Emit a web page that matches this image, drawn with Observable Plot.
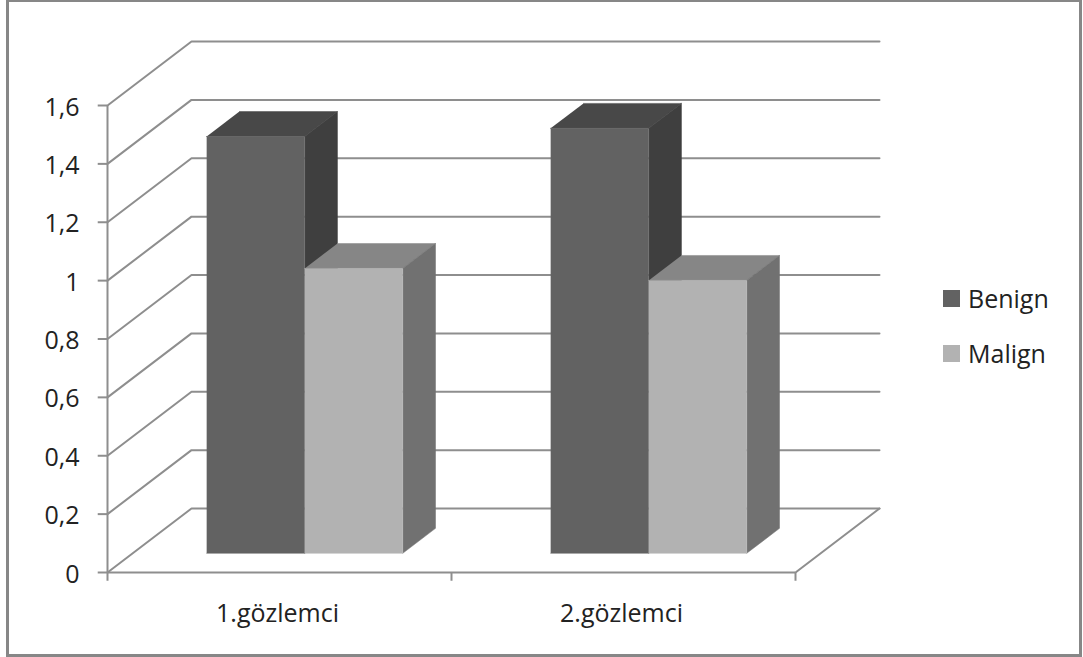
<!DOCTYPE html>
<html><head><meta charset="utf-8">
<script src="https://cdn.jsdelivr.net/npm/d3@7"></script>
<script src="https://cdn.jsdelivr.net/npm/@observablehq/plot@0.6"></script>
<style>
html,body{margin:0;padding:0;background:#fff}
#wrap{position:relative;width:1083px;height:657px;overflow:hidden}
#wrap svg{position:absolute;left:0;top:0}
#border{position:absolute;left:6px;top:-1px;width:1070px;height:652px;border:3px solid #878787}
.lg{position:absolute;left:943px;font:25px "Open Sans",sans-serif;color:#222;line-height:17px;white-space:nowrap}
.lg i{display:inline-block;width:17px;height:17px;margin-right:8px;vertical-align:top}
</style></head><body>
<div id="wrap"><div id="border"></div></div>
<script>
const categories = ["1.gözlemci", "2.gözlemci"];
const seriesNames = ["Benign", "Malign"];
const benign = [1.428, 1.456];
const malign = [0.976, 0.935];
const yTicks = [0, 0.2, 0.4, 0.6, 0.8, 1, 1.2, 1.4, 1.6];
const palette = {
  Benign: {front: "#626262", top: "#484848", side: "#3f3f3f"},
  Malign: {front: "#b2b2b2", top: "#868686", side: "#717171"}
};
// oblique projection of the depth axis, in data units
const depthX = 84 / 344, depthY = 64 / 292;
const barStart = 0.215, barWidth = 0.285, zFront = 0.3, zBack = 0.69;
const P = (x, z, v) => ({x: x + z * depthX, y: v + z * depthY});
const grid = "#8e8e8e";

const boxes = [];
seriesNames.forEach((name, s) => {
  const vals = s === 0 ? benign : malign;
  categories.forEach((c, i) => {
    const x0 = i + barStart + s * barWidth, x1 = x0 + barWidth, v = vals[i], col = palette[name];
    boxes.push(Plot.line([P(x0,zFront,v),P(x1,zFront,v),P(x1,zBack,v),P(x0,zBack,v)], {x:"x",y:"y",fill:col.top,stroke:col.top,strokeWidth:0.5}));
    boxes.push(Plot.line([P(x1,zFront,0),P(x1,zBack,0),P(x1,zBack,v),P(x1,zFront,v)], {x:"x",y:"y",fill:col.side,stroke:col.side,strokeWidth:0.5}));
    boxes.push(Plot.line([P(x0,zFront,0),P(x1,zFront,0),P(x1,zFront,v),P(x0,zFront,v)], {x:"x",y:"y",fill:col.front,stroke:col.front,strokeWidth:0.5}));
  });
});

const xMax = categories.length;
const chart = Plot.plot({
  width: 1083, height: 657,
  marginLeft: 107, marginRight: 288, marginTop: 105, marginBottom: 85,
  x: {type: "linear", domain: [0, xMax], axis: null},
  y: {domain: [0, 1.6], axis: null},
  style: {background: "transparent"},
  marks: [
    // gridlines: wall diagonals and back-wall lines
    ...yTicks.map(t => Plot.line([P(0,0,t),P(0,1,t),P(xMax,1,t)], {x:"x",y:"y",stroke:grid,strokeWidth:2})),
    // floor right edge
    Plot.line([P(xMax,0,0),P(xMax,1,0)], {x:"x",y:"y",stroke:grid,strokeWidth:2}),
    // front axes
    Plot.ruleX([0], {y1: -0.03, y2: 1.6, stroke: grid, strokeWidth: 2}),
    Plot.ruleY([0], {x1: 0, x2: xMax, stroke: grid, strokeWidth: 2}),
    Plot.ruleX(d3.range(1, xMax + 1), {y1: -0.03, y2: 0, stroke: grid, strokeWidth: 2}),
    Plot.ruleY(yTicks, {x1: -0.027, x2: 0, stroke: grid, strokeWidth: 2}),
    // tick labels
    Plot.text(yTicks, {x: 0, y: d => d, text: d => String(d).replace(".", ","), textAnchor: "end", dx: -28, dy: 2, fontSize: 25, fontFamily: "Open Sans", fill: "#222"}),
    Plot.text(categories, {x: (d, i) => i + 0.5, y: 0, text: d => d, textAnchor: "middle", dy: 41, dx: -2, fontSize: 25, fontFamily: "Open Sans", fill: "#222"}),
    ...boxes
  ]
});
const wrap = document.getElementById("wrap");
wrap.appendChild(chart);
seriesNames.forEach((name, s) => {
  const d = document.createElement("div");
  d.className = "lg";
  d.style.top = (290 + s * 55) + "px";
  d.innerHTML = `<i style="background:${palette[name].front}"></i>${name}`;
  wrap.appendChild(d);
});
</script>
</body></html>
